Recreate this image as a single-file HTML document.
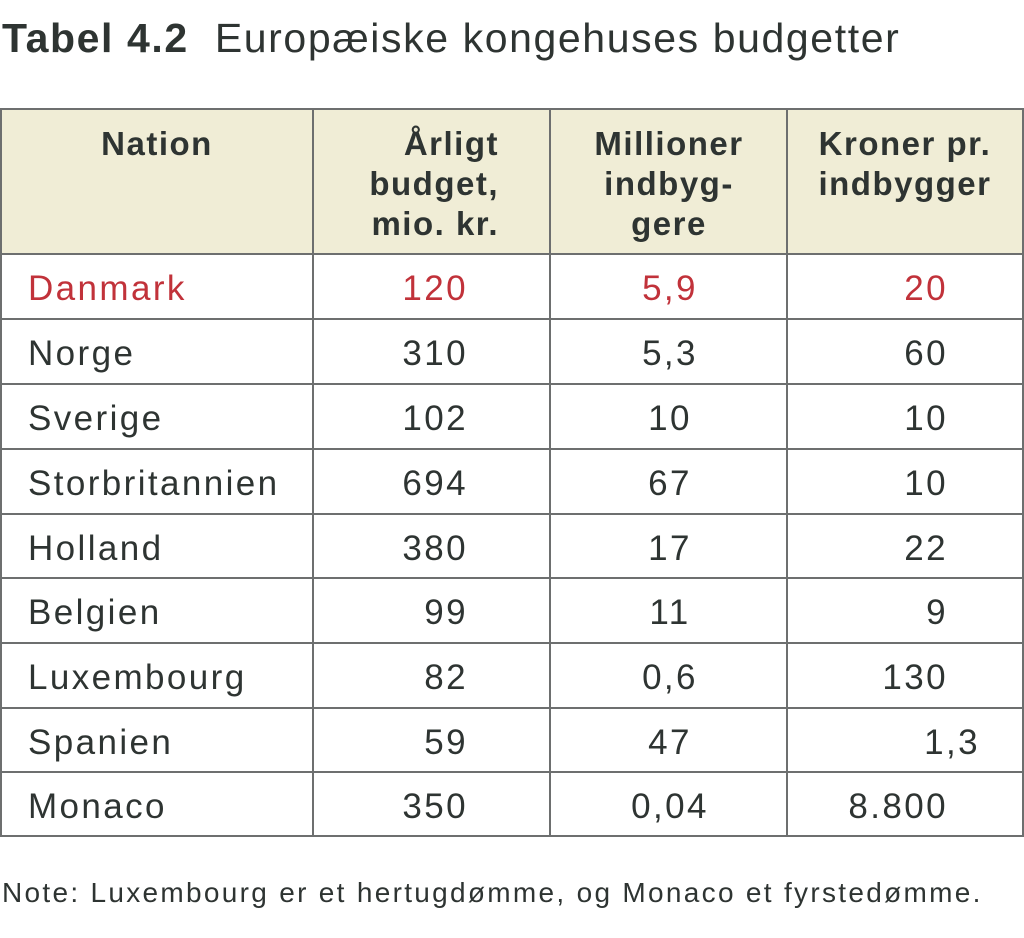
<!DOCTYPE html><html><head><meta charset="utf-8"><style>
body{margin:0;width:1024px;height:938px;background:#fff;position:relative;overflow:hidden;font-family:"Liberation Sans",sans-serif;color:#2e3432}
.h{position:absolute;background:#6d6f6f;height:2px;left:0;width:1024px}
.v{position:absolute;background:#6d6f6f;width:2px;top:108px;height:729px}
.t{position:absolute;font-size:35px;letter-spacing:2.4px;line-height:65px;white-space:nowrap}
.hd{position:absolute;font-size:33px;letter-spacing:1.5px;font-weight:bold;line-height:40px;text-align:center;color:#2e3432}
</style></head><body>
<div style="position:absolute;left:2px;top:15px;font-size:41px;letter-spacing:1.6px;white-space:nowrap"><b>Tabel 4.2</b>&nbsp;&nbsp;Europæiske kongehuses budgetter</div>
<div style="position:absolute;left:0;top:108px;width:1024px;height:146px;background:#f0edd6"></div>
<div class="h" style="top:108px"></div>
<div class="h" style="top:253px"></div>
<div class="h" style="top:318px"></div>
<div class="h" style="top:383px"></div>
<div class="h" style="top:448px"></div>
<div class="h" style="top:513px"></div>
<div class="h" style="top:577px"></div>
<div class="h" style="top:642px"></div>
<div class="h" style="top:707px"></div>
<div class="h" style="top:771px"></div>
<div class="h" style="top:835px"></div>
<div class="v" style="left:0"></div>
<div class="v" style="left:312px"></div>
<div class="v" style="left:549px"></div>
<div class="v" style="left:786px"></div>
<div class="v" style="left:1022px"></div>
<div class="hd" style="left:0;width:314px;top:124px">Nation</div>
<div class="hd" style="left:300px;width:199px;top:124px;text-align:right">Årligt<br>budget,<br>mio. kr.</div>
<div class="hd" style="left:551px;width:236px;top:124px">Millioner<br>indbyg-<br>gere</div>
<div class="hd" style="left:788px;width:234px;top:124px">Kroner pr.<br>indbygger</div>
<div id="rows"></div>
<div style="position:absolute;left:2px;top:877px;font-size:28px;letter-spacing:2.3px;white-space:nowrap">Note: Luxembourg er et hertugdømme, og Monaco et fyrstedømme.</div>
<script>
var d=[["Danmark","120","5,9","20"],["Norge","310","5,3","60"],["Sverige","102","10","10"],["Storbritannien","694","67","10"],["Holland","380","17","22"],["Belgien","99","11","9"],["Luxembourg","82","0,6","130"],["Spanien","59","47","1,3"],["Monaco","350","0,04","8.800"]];
var tops=[254,319,384,449,514,578,643,708,772],h="";
d.forEach(function(r,i){var y=tops[i]+2,c=i==0?"color:#c1323a;":"";
h+='<div class="t" style="'+c+'left:28px;top:'+y+'px">'+r[0]+'</div>';
h+='<div class="t" style="'+c+'right:'+(1024-468)+'px;top:'+y+'px">'+r[1]+'</div>';
h+='<div class="t" style="'+c+'left:552px;width:236px;text-align:center;top:'+y+'px">'+r[2]+'</div>';
h+='<div class="t" style="'+c+'right:'+(1024-(r[3]=="1,3"?980:948))+'px;top:'+y+'px">'+r[3]+'</div>';});
document.getElementById("rows").innerHTML=h;
</script>
</body></html>
